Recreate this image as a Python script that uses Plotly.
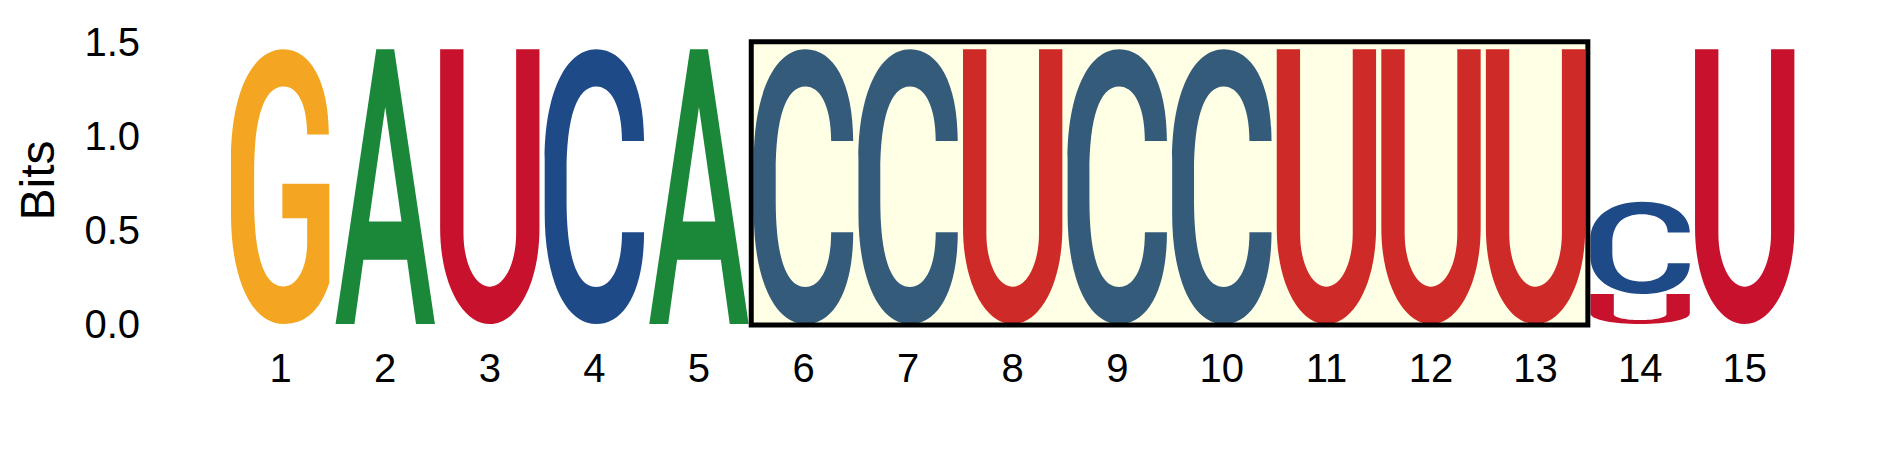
import plotly.graph_objects as go

# sequence logo data (bits per letter at each position)
positions = list(range(1, 16))
bits_A = [0, 1.46, 0, 0, 1.46, 0, 0, 0, 0, 0, 0, 0, 0, 0, 0]
bits_C = [0, 0, 0, 1.46, 0, 1.46, 1.46, 0, 1.46, 1.46, 0, 0, 0, 0.49, 0]
bits_G = [1.46, 0, 0, 0, 0, 0, 0, 0, 0, 0, 0, 0, 0, 0, 0]
bits_U = [0, 0, 1.46, 0, 0, 0, 0, 1.46, 0, 0, 1.46, 1.46, 1.46, 0.16, 1.46]
highlight_start = 6
highlight_end = 13

letter_colors = {'A': '#1A8739', 'C': '#1E4A88', 'G': '#F4A622', 'U': '#C8122D'}

# glyph outlines in a unit box (x 0..1, y 0..1)
glyphs = {
    'A': [('M', (0, 0)), ('L', (0.41, 1)), ('L', (0.59, 1)), ('L', (1, 0)), ('L', (0.81, 0)),
          ('L', (0.72, 0.234)), ('L', (0.28, 0.234)), ('L', (0.19, 0)), ('Z',),
          ('M', (0.336, 0.373)), ('L', (0.664, 0.373)), ('L', (0.5, 0.79)), ('Z',)],
    'U': [('M', (0, 1)), ('L', (0.235, 1)), ('L', (0.235, 0.33)),
          ('C', (0.235, 0.22), (0.355, 0.136), (0.5, 0.136)),
          ('C', (0.645, 0.136), (0.765, 0.22), (0.765, 0.33)),
          ('L', (0.765, 1)), ('L', (1, 1)), ('L', (1, 0.35)),
          ('C', (1, 0.15), (0.78, 0), (0.5, 0)),
          ('C', (0.22, 0), (0, 0.15), (0, 0.35)), ('Z',)],
    'C': [('M', (1, 0.666)),
          ('C', (1, 0.88), (0.8, 1), (0.52, 1)),
          ('C', (0.2, 1), (0, 0.83), (0, 0.6)), ('L', (0, 0.4)),
          ('C', (0, 0.17), (0.2, 0), (0.52, 0)),
          ('C', (0.8, 0), (1, 0.12), (1, 0.334)), ('L', (0.778, 0.334)),
          ('C', (0.778, 0.2), (0.66, 0.135), (0.52, 0.135)),
          ('C', (0.32, 0.135), (0.22, 0.25), (0.22, 0.45)), ('L', (0.22, 0.55)),
          ('C', (0.22, 0.75), (0.32, 0.865), (0.52, 0.865)),
          ('C', (0.66, 0.865), (0.778, 0.8), (0.778, 0.666)), ('Z',)],
    'G': [('M', (0.985, 0.69)), ('L', (0.767, 0.69)),
          ('C', (0.767, 0.8), (0.67, 0.865), (0.53, 0.865)),
          ('C', (0.33, 0.865), (0.233, 0.75), (0.233, 0.55)), ('L', (0.233, 0.45)),
          ('C', (0.233, 0.25), (0.33, 0.137), (0.53, 0.137)),
          ('C', (0.66, 0.137), (0.767, 0.2), (0.767, 0.3)),
          ('L', (0.767, 0.385)), ('L', (0.517, 0.385)), ('L', (0.517, 0.511)),
          ('L', (0.99, 0.511)), ('L', (0.99, 0.15)),
          ('C', (0.9, 0.05), (0.75, 0), (0.53, 0)),
          ('C', (0.2, 0), (0, 0.17), (0, 0.4)), ('L', (0, 0.6)),
          ('C', (0, 0.83), (0.2, 1), (0.53, 1)),
          ('C', (0.8, 1), (0.985, 0.88), (0.985, 0.69)), ('Z',)],
}


def glyph_path(letter, xc, y0, y1, w=0.95):
    parts = []
    for seg in glyphs[letter]:
        cmd = seg[0]
        if cmd == 'Z':
            parts.append('Z')
            continue
        pts = ['%.5f,%.5f' % (xc - w / 2 + px * w, y0 + py * (y1 - y0)) for px, py in seg[1:]]
        parts.append(cmd + ' ' + ' '.join(pts))
    return ' '.join(parts)


shapes = []
for i, p in enumerate(positions):
    stack = [('A', bits_A[i]), ('C', bits_C[i]), ('G', bits_G[i]), ('U', bits_U[i])]
    stack = sorted([s for s in stack if s[1] > 0], key=lambda s: s[1])
    base = 0
    for letter, h in stack:
        shapes.append(dict(type='path', path=glyph_path(letter, p, base, base + h),
                           xref='x', yref='y', fillcolor=letter_colors[letter],
                           line=dict(width=0), layer='above'))
        base += h

# highlighted block
shapes.append(dict(type='rect', xref='x', yref='y', x0=highlight_start - 0.5, x1=highlight_end + 0.5,
                   y0=-0.005, y1=1.50, fillcolor='rgba(255,255,0,0.1)',
                   line=dict(color='black', width=5), layer='above'))

fig = go.Figure()
fig.add_trace(go.Scatter(x=positions, y=[0] * len(positions), mode='none',
                         hoverinfo='skip', showlegend=False))

fig.update_layout(width=1889, height=472, plot_bgcolor='white', paper_bgcolor='white',
                  margin=dict(l=141, r=100, t=12, b=142), shapes=shapes,
                  font=dict(family='Liberation Sans, Arial', color='black'))
fig.update_xaxes(range=[-0.259, 15.5], tickvals=positions, ticktext=[str(p) for p in positions],
                 tickfont=dict(size=40), ticklabelstandoff=3,
                 showgrid=False, zeroline=False, showline=False, ticks='')
fig.update_yaxes(range=[-0.074, 1.6], tickvals=[0, 0.5, 1.0, 1.5], ticktext=['0.0', '0.5', '1.0', '1.5'],
                 tickfont=dict(size=40), ticklabelstandoff=8,
                 showgrid=False, zeroline=False, showline=False, ticks='',
                 title=dict(text='Bits', font=dict(size=48), standoff=14))

fig.write_html('out.html')
